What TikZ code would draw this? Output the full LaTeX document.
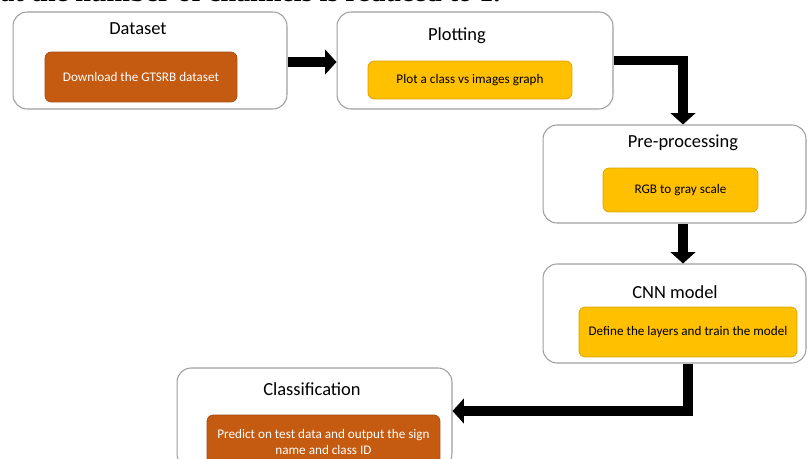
\documentclass[tikz,border=0pt]{standalone}
\usepackage{fontspec}
\setmainfont{Carlito}
\newfontfamily\headfont{Liberation Serif}
\usetikzlibrary{arrows.meta}

\definecolor{rust}{HTML}{C55A11}
\definecolor{amber}{HTML}{FFC000}

\begin{document}
\begin{tikzpicture}[
    x=0.02cm, y=-0.02cm,
    stage/.style={draw=gray!75, line width=0.6pt, fill=white, rounded corners=8pt},
    title/.style={font=\fontsize{10.5}{12}\selectfont},
    darktask/.style={draw=rust!85!black, line width=0.4pt, fill=rust, rounded corners=3.5pt,
        text=white, font=\fontsize{7.5}{9}\selectfont, align=center},
    lighttask/.style={draw=amber!85!black, line width=0.4pt, fill=amber, rounded corners=3.5pt,
        text=black, font=\fontsize{7.5}{9}\selectfont, align=center},
    flow/.style={line width=5.5pt, -{Triangle[width=14pt,length=6.5pt]}}
]

\useasboundingbox (0,0) rectangle (808,459);
\clip (0,0) rectangle (808,459);

% Caption line cut off above
\node[anchor=base west, inner sep=0pt, font=\headfont\bfseries\fontsize{16}{18}\selectfont]
    (caption) at (0,2) {at the number of channels is reduced to 1.};

% Stages
\node[stage, minimum width=5.48cm, minimum height=1.94cm] (dataset) at (150,60.5) {};
\node[stage, minimum width=5.52cm, minimum height=1.94cm] (plotting) at (475,60.5) {};
\node[stage, minimum width=5.26cm, minimum height=1.96cm] (preproc) at (674.5,174) {};
\node[stage, minimum width=5.26cm, minimum height=1.98cm] (cnn) at (674.5,313.5) {};
\node[stage, minimum width=5.50cm, minimum height=2.00cm] (classif) at (314.5,418) {};

% Stage titles
\node[title] (datasettitle) at (138,29) {Dataset};
\node[title] (plottingtitle) at (457,36) {Plotting};
\node[title] (preproctitle) at (683,143) {Pre-processing};
\node[title] (cnntitle) at (675,292) {CNN model};
\node[title] (classiftitle) at (312,389) {Classification};

% Tasks
\node[darktask, minimum width=3.84cm, minimum height=1.00cm] (download) at (141,77) {Download the GTSRB dataset};
\node[lighttask, minimum width=4.08cm, minimum height=0.76cm] (plotgraph) at (470,80) {Plot a class vs images graph};
\node[lighttask, minimum width=3.10cm, minimum height=0.88cm] (rgb) at (680.5,190) {RGB to gray scale};
\node[lighttask, minimum width=4.36cm, minimum height=1.00cm] (define) at (688,332) {Define the layers and train the model};
\node[darktask, minimum width=4.66cm, minimum height=1.08cm] (predict) at (323.5,442) {Predict on test data and output the sign\\name and class ID};

% Flow
\draw[flow] ([yshift=-0.03cm]dataset.east) -- ([yshift=-0.03cm]plotting.west);
\draw[flow] (plotting.east) -| ([xshift=0.17cm]preproc.north);
\draw[flow] ([xshift=0.17cm]preproc.south) -- ([xshift=0.17cm]cnn.north);
\draw[flow] ([xshift=0.27cm]cnn.south) |- ([yshift=0.14cm]classif.east);

\end{tikzpicture}
\end{document}
